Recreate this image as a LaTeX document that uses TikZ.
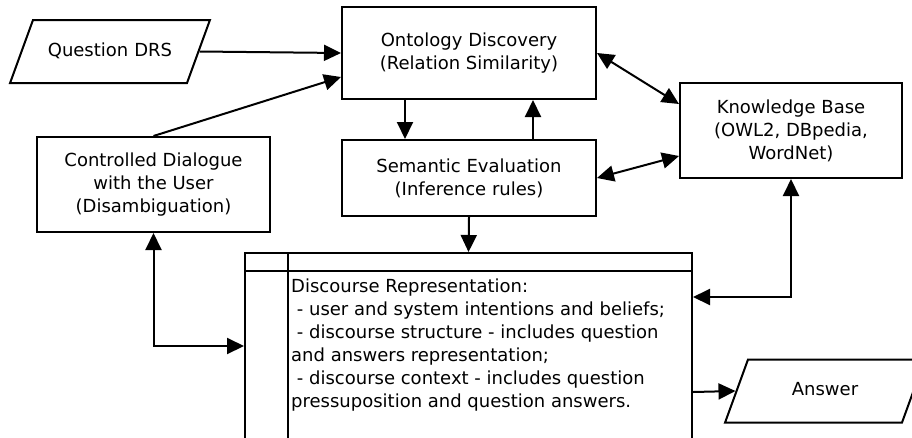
\documentclass[tikz,border=0pt]{standalone}
\usepackage{fontspec}
\setmainfont{DejaVu Sans}
\usetikzlibrary{shapes.geometric,arrows.meta,calc}

\begin{document}
\begin{tikzpicture}[x=1pt,y=-1pt,every node/.style={font=\fontsize{18}{23}\selectfont}]

\tikzset{box/.style={draw,line width=2pt,rectangle,align=center,inner sep=0pt},
  io/.style={draw,line width=2pt,trapezium,trapezium left angle=70,trapezium right angle=110,
    text width=144pt,text height=13pt,text depth=4pt,align=center,inner xsep=5pt,inner ysep=23pt},
  link/.style={line width=2pt,-{Triangle[length=17pt,width=16pt]}},
  links/.style={line width=2pt,{Triangle[length=17pt,width=16pt]}-{Triangle[length=17pt,width=16pt]}}}

  \useasboundingbox (0,0) rectangle (912,437);
  \clip (0,0) rectangle (912,437);

  \node[io] (qdrs) at (110,51.5) {Question DRS};
  \node[box,minimum width=254pt,minimum height=92pt] (onto) at (469,53) {Ontology Discovery\\(Relation Similarity)};
  \node[box,minimum width=254pt,minimum height=76pt] (sem) at (469,178) {Semantic Evaluation\\(Inference rules)};
  \node[box,minimum width=222pt,minimum height=95pt] (kb) at (791,130.5) {Knowledge Base\\(OWL2, DBpedia,\\WordNet)};
  \node[box,minimum width=233pt,minimum height=95pt] (dial) at (153.5,184.5) {Controlled Dialogue\\with the User\\(Disambiguation)};

  \node[box,minimum width=447pt,minimum height=260pt] (disc) at (468.5,383) {};
  \draw[line width=2pt] ($(disc.north west)+(0,19)$) -- ($(disc.north east)+(0,19)$);
  \draw[line width=2pt] ($(disc.north west)+(44,0)$) -- ($(disc.south west)+(44,0)$);
  \node[anchor=north west,align=left,inner sep=0pt] (disctext) at ($(disc.north west)+(47,27)$)
    {Discourse Representation:\\\ - user and system intentions and beliefs;\\\ - discourse structure - includes question\\and answers representation;\\\ - discourse context - includes question\\pressuposition and question answers.};

  \node[io] (ans) at (825,391) {Answer};

  \draw[link] (qdrs.east) -- (onto.west);
  \draw[link] (dial.north) -- ($(onto.west)+(0,24)$);
  \draw[link] ($(onto.south)+(-64,0)$) -- ($(sem.north)+(-64,0)$);
  \draw[link] ($(sem.north)+(64,0)$) -- ($(onto.south)+(64,0)$);
  \draw[links] (onto.east) -- ($(kb.north west)+(0,22)$);
  \draw[links] (sem.east) -- ($(kb.south west)+(0,-23)$);
  \draw[link] (sem.south) -- (disc.north);
  \draw[links] (dial.south) |- ($(disc.north west)+(0,94)$);
  \draw[links] (kb.south) |- ($(disc.north east)+(0,45)$);
  \draw[link] ($(disc.north east)+(0,140)$) -- (ans.west);

\end{tikzpicture}
\end{document}
